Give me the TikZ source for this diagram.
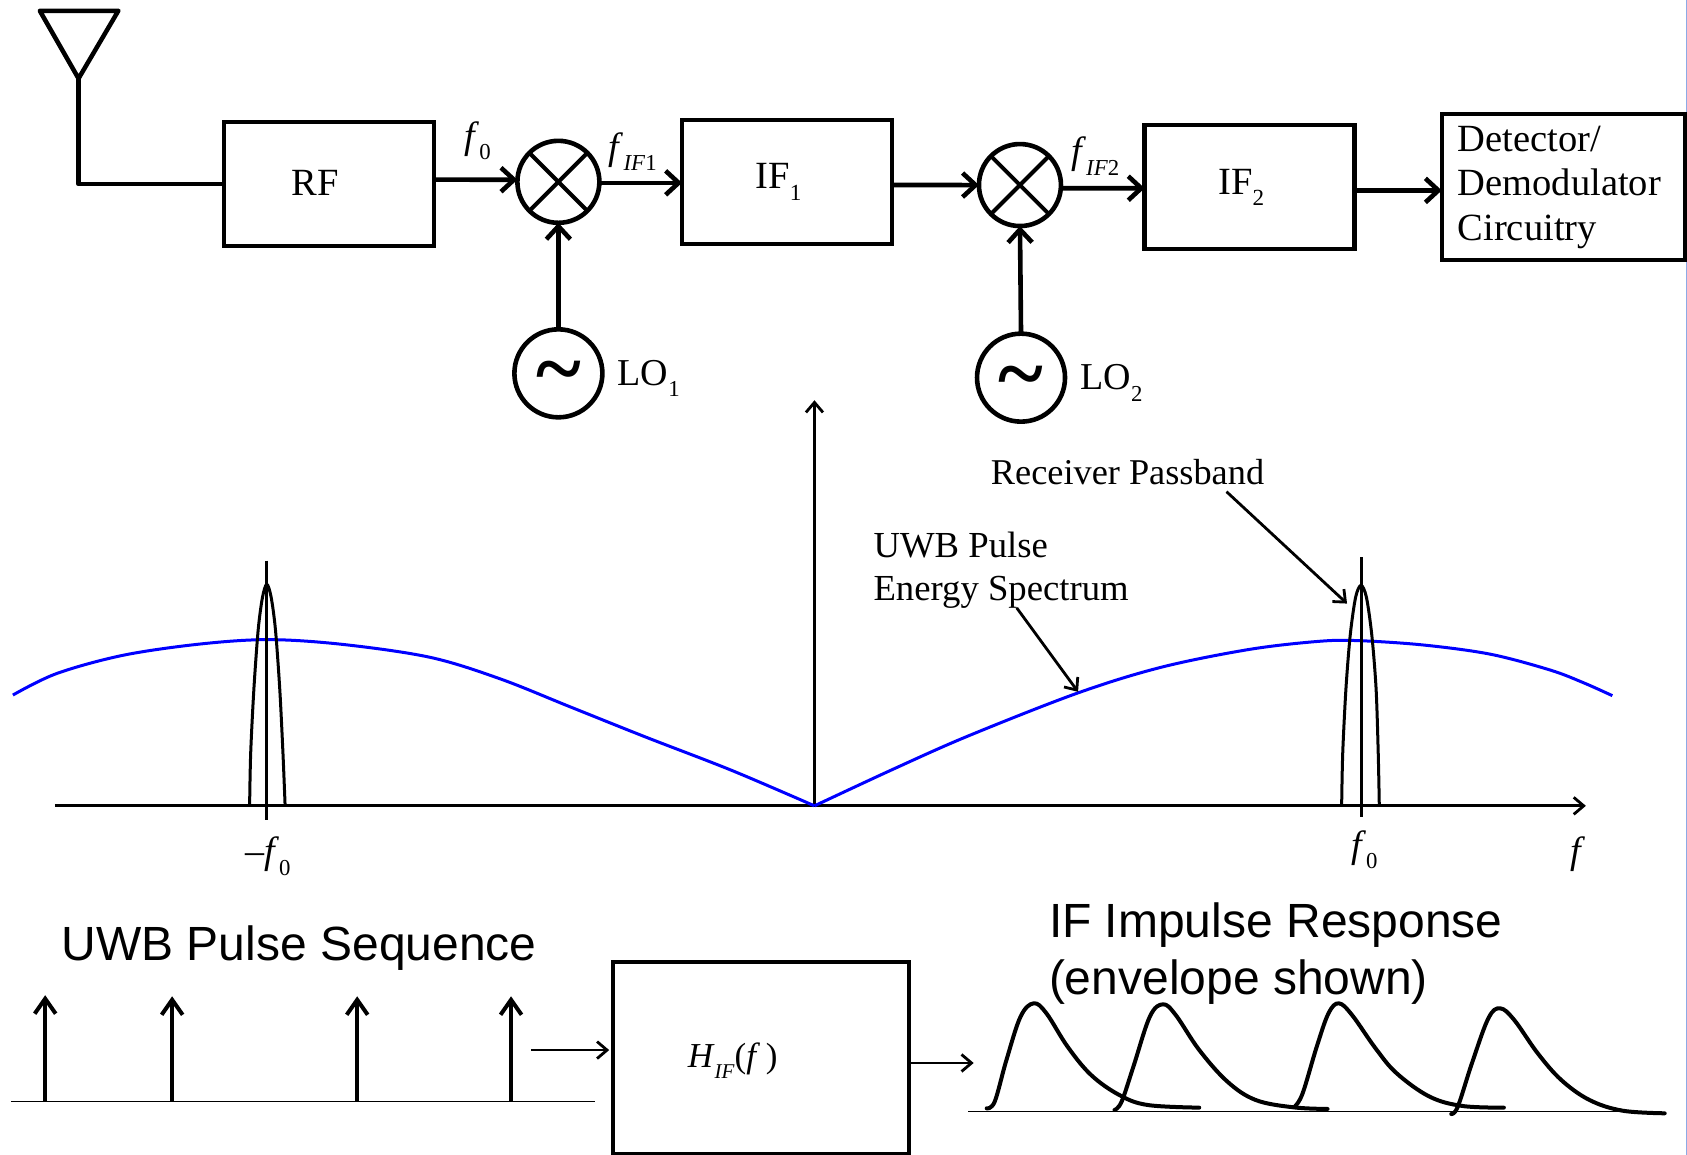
\documentclass[tikz,border=0pt]{standalone}
\usepackage{fontspec}
\setmainfont{Liberation Serif}
\setsansfont{Liberation Sans}
\usetikzlibrary{arrows.meta}
\newcommand{\lowsub}[2][0.3em]{\raisebox{-#1}{\fontsize{0.6em}{0.6em}\selectfont #2}}
\newcommand{\wave}{\fontsize{86}{86}\selectfont\bfseries\char`\~}
\tikzset{
  heavy/.style={line width=4.5pt},
  hvarrow/.style={line width=4.6pt,-{Straight Barb[length=13pt,width=24pt,line width=4.6pt]}},
  thinarrow/.style={line width=2.8pt,-{Straight Barb[length=10pt,width=17pt,line width=2.8pt]}},
  pulsearrow/.style={line width=4pt,-{Straight Barb[length=15pt,width=21pt,line width=4pt]}},
  blockbox/.style={draw,line width=4.5pt,minimum width=210pt,minimum height=124pt,inner sep=0pt,outer sep=0pt,font=\fontsize{38.5}{38.5}\selectfont},
  mixer/.style={draw,circle,line width=4.6pt,minimum size=82pt,inner sep=0pt,outer sep=0pt},
  lonode/.style={draw,circle,line width=4.6pt,minimum size=88pt,inner sep=0pt,outer sep=0pt},
  lbl/.style={inner sep=0pt,outer sep=0pt,font=\fontsize{38}{42}\selectfont},
  big/.style={inner sep=0pt,outer sep=0pt,font=\sffamily\fontsize{48}{57.5}\selectfont,align=left},
  bandline/.style={line width=3pt},
  bluecurve/.style={line width=3pt,blue,line join=round},
  sketch/.style={line width=4pt,line cap=round,line join=round}
}
\begin{document}
\begin{tikzpicture}[x=1.0759pt,y=-1.0759pt]
\useasboundingbox (0,0) rectangle (1568,1073.5);
\draw[line width=1.5pt,color={rgb,255:red,140;green,170;blue,230}] (1567.4,0) -- (1567.4,1073.5);

% top chain
\coordinate (antL) at (37,10);
\coordinate (antR) at (110,10);
\coordinate (antB) at (73,73);
\draw[heavy,line join=round] (antL) -- (antR) -- (antB) -- cycle;
\node[blockbox] (rf) at (306,171) {\raisebox{3pt}{RF}\kern28pt};
\node[mixer] (mix1) at (519,169) {};
\node[blockbox] (if1) at (731.5,169) {\raisebox{4pt}{IF\lowsub{1}}\kern17pt};
\node[mixer] (mix2) at (948,172) {};
\node[blockbox] (if2) at (1161.5,174) {\raisebox{4pt}{IF\lowsub{2}}\kern17pt};
\node[draw,line width=4.5pt,minimum width=243pt,minimum height=146pt,text width=211pt,inner xsep=16pt,inner ysep=0pt,outer sep=0pt,align=left,font=\fontsize{38.5}{44.5}\selectfont] (det) at (1453,174) {Detector/\\Demodulator\\Circuitry};
\node[lonode] (lo1) at (519,347) {\smash{\raisebox{-24.5pt}{\wave}}};
\node[lonode] (lo2) at (949,351) {\smash{\raisebox{-24.5pt}{\wave}}};

\draw[heavy,line join=round] (antB) |- (rf.west);
\draw[hvarrow] ([yshift=4.3pt]rf.east) -- ([yshift=2.1pt]mix1.west);
\draw[hvarrow] ([yshift=-1pt]mix1.east) -- ([yshift=-1pt]if1.west);
\draw[hvarrow] ([yshift=-3.2pt]if1.east) -- (mix2.west);
\draw[hvarrow] ([yshift=-3.2pt]mix2.east) -- ([yshift=-1pt]if2.west);
\draw[hvarrow] ([yshift=-3.2pt]if2.east) -- ([yshift=-3.2pt]det.west);
\draw[hvarrow] (lo1.north) -- (mix1.south);
\draw[hvarrow] (lo2.north) -- (mix2.south);
\foreach \m in {mix1,mix2}{
  \draw[line width=4pt] (\m.135) -- (\m.315);
  \draw[line width=4pt] (\m.45) -- (\m.225);
}
\node[lbl] (f0top) at (444,131) {\textit{f}\lowsub{0}};
\node[lbl] (fif1) at (588,141) {\textit{f}\lowsub{\textit{IF}1}};
\node[lbl] (fif2) at (1018,145) {\textit{f}\lowsub{\textit{IF}2}};
\node[lbl] (lo1t) at (603,352) {LO\lowsub{1}};
\node[lbl] (lo2t) at (1033,356) {LO\lowsub{2}};

% spectrum
\coordinate (origin) at (757,749);
\coordinate (ytop) at (757,372);
\coordinate (axL) at (51,749);
\coordinate (axR) at (1474,749);
\draw[thinarrow] (origin) -- (ytop);
\draw[thinarrow] (axL) -- (axR);
\draw[bluecurve] plot[smooth,tension=0.55] coordinates {(12,646) (52.7,626) (114.6,609) (185.9,598.6) (250,594.5) (319,599) (400,611) (465,631) (530,657) (600,685) (680,716) (757,749)};
\draw[bluecurve] plot[smooth,tension=0.55] coordinates {(757,749) (830,715) (900,684) (1002,644) (1080,620) (1161.8,603.5) (1227,596) (1264,595.5) (1323,599.5) (1385,608) (1440.6,622.7) (1471.6,634.5) (1498.6,646.6)};
\coordinate (nT) at (248,521);
\coordinate (nB) at (248,762);
\coordinate (pT) at (1265,518);
\coordinate (pB) at (1265,759);
\draw[bandline] (nT) -- (nB);
\draw[bandline] (pT) -- (pB);
\draw[bandline,line join=round] plot[smooth,tension=0.5] coordinates {(232,749) (233,700) (236,640) (240,585) (244,555) (248,543) (252,555) (256,585) (260,640) (263,700) (265,749)};
\draw[bandline,line join=round] plot[smooth,tension=0.5] coordinates {(1247,749) (1248,700) (1251,640) (1255,590) (1260,555) (1265,544) (1270,555) (1275,590) (1279,640) (1281,700) (1282,749)};
\node[lbl] (negf0) at (249,796) {\textendash\textit{f}\lowsub{0}};
\node[lbl] (posf0) at (1268,790) {\textit{f}\lowsub{0}};
\node[lbl] (ft) at (1467,794) {\textit{f}};
\node[lbl,font=\fontsize{36.3}{36.3}\selectfont] (rp) at (1048,439) {Receiver Passband};
\node[lbl,font=\fontsize{36.7}{43}\selectfont,align=left] (uwbspec) at (930.5,530) {UWB Pulse\\Energy Spectrum};
\coordinate (rpTip) at (1252,561);
\coordinate (usTip) at (1002,643);
\draw[thinarrow] (1140,457) -- (rpTip);
\draw[thinarrow] (945,565) -- (usTip);

% bottom
\node[big] (seq) at (278,881) {UWB Pulse Sequence};
\node[big,anchor=north west] (imp) at (975,839) {IF Impulse Response\\(envelope shown)};
\coordinate (b1L) at (10,1024);
\coordinate (b1R) at (553,1024);
\draw[line width=1.3pt] (b1L) -- (b1R);
\foreach \n/\x/\t in {p1/42/925,p2/160/926,p3/332/926,p4/475/926}{
  \coordinate (\n b) at (\x,1024);
  \coordinate (\n t) at (\x,\t);
  \draw[pulsearrow] (\n b) -- (\n t);
}
\node[draw,line width=4.5pt,minimum width=296pt,minimum height=192.5pt,inner sep=0pt,outer sep=0pt] (hif) at (707.5,983.5) {};
\node[lbl,font=\fontsize{35}{35}\selectfont] (hift) at (681,986) {\textit{H}\lowsub{\textit{IF}}(\textit{f}\,)};
\coordinate (inS) at (494,976);
\coordinate (outE) at (905,988);
\draw[thinarrow] (inS) -- ([xshift=-4pt]inS -| hif.west);
\draw[thinarrow] (hif.east |- outE) -- (outE);
\coordinate (b2L) at (900,1033);
\coordinate (b2R) at (1545,1033);
\draw[line width=1.3pt] (b2L) -- (b2R);
\begin{scope}[shift={(883,827.2)},xscale=0.437,yscale=0.3098]
\draw[sketch] plot[smooth,tension=0.6] coordinates {(78,655) (95,635) (120,510) (150,380) (178,340) (205,370) (250,470) (300,555) (360,615) (420,645) (530,653)};
\draw[sketch] plot[smooth,tension=0.6] coordinates {(350,660) (365,635) (390,530) (425,380) (453,343) (480,375) (530,480) (590,575) (650,630) (730,652) (803,657)};
\draw[sketch] plot[smooth,tension=0.6] coordinates {(733,650) (750,610) (780,470) (805,370) (827,340) (855,375) (905,475) (950,550) (1020,620) (1090,648) (1178,653)};
\draw[sketch] plot[smooth,tension=0.6] coordinates {(1066,672) (1080,650) (1110,520) (1145,385) (1170,355) (1200,390) (1250,490) (1300,570) (1360,630) (1430,662) (1520,670)};
\end{scope}
\end{tikzpicture}
\end{document}
